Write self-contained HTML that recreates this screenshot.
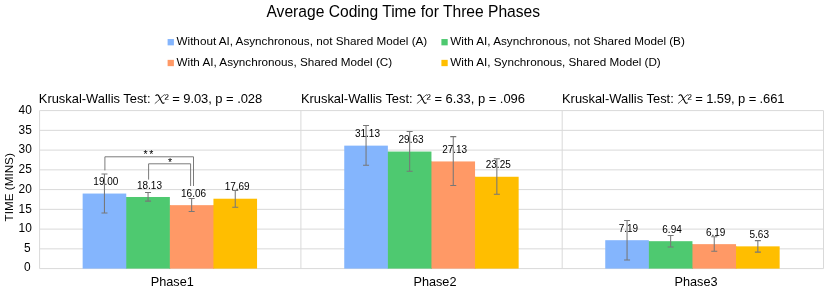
<!DOCTYPE html>
<html><head><meta charset="utf-8"><style>html,body{margin:0;padding:0;background:#fff}svg{display:block;will-change:transform}text{font-family:"Liberation Sans",sans-serif;fill:#000}</style></head><body>
<svg width="830" height="298" viewBox="0 0 830 298">
<line x1="39.6" x2="823.5" y1="268.60" y2="268.60" stroke="#D9D9D9" stroke-width="1"/>
<text x="30.7" y="271.3" font-size="11.9" text-anchor="end">0</text>
<line x1="39.6" x2="823.5" y1="248.85" y2="248.85" stroke="#D9D9D9" stroke-width="1"/>
<text x="30.7" y="251.5" font-size="11.9" text-anchor="end">5</text>
<line x1="39.6" x2="823.5" y1="229.10" y2="229.10" stroke="#D9D9D9" stroke-width="1"/>
<text x="31.8" y="231.9" font-size="11.9" text-anchor="end">10</text>
<line x1="39.6" x2="823.5" y1="209.35" y2="209.35" stroke="#D9D9D9" stroke-width="1"/>
<text x="31.8" y="212.6" font-size="11.9" text-anchor="end">15</text>
<line x1="39.6" x2="823.5" y1="189.60" y2="189.60" stroke="#D9D9D9" stroke-width="1"/>
<text x="31.8" y="193.1" font-size="11.9" text-anchor="end">20</text>
<line x1="39.6" x2="823.5" y1="169.85" y2="169.85" stroke="#D9D9D9" stroke-width="1"/>
<text x="31.8" y="173.2" font-size="11.9" text-anchor="end">25</text>
<line x1="39.6" x2="823.5" y1="150.10" y2="150.10" stroke="#D9D9D9" stroke-width="1"/>
<text x="31.8" y="153.3" font-size="11.9" text-anchor="end">30</text>
<line x1="39.6" x2="823.5" y1="130.35" y2="130.35" stroke="#D9D9D9" stroke-width="1"/>
<text x="31.8" y="133.5" font-size="11.9" text-anchor="end">35</text>
<line x1="39.6" x2="823.5" y1="110.60" y2="110.60" stroke="#D9D9D9" stroke-width="1"/>
<text x="31.8" y="113.95" font-size="11.9" text-anchor="end">40</text>
<line x1="39.60" x2="39.60" y1="110.60" y2="268.60" stroke="#D9D9D9" stroke-width="1"/>
<line x1="300.90" x2="300.90" y1="110.60" y2="268.60" stroke="#D9D9D9" stroke-width="1"/>
<line x1="562.20" x2="562.20" y1="110.60" y2="268.60" stroke="#D9D9D9" stroke-width="1"/>
<line x1="823.50" x2="823.50" y1="110.60" y2="268.60" stroke="#D9D9D9" stroke-width="1"/>
<rect x="82.65" y="193.55" width="43.6" height="75.05" fill="#84B5FD"/>
<rect x="125.65" y="196.99" width="1.2" height="71.61" fill="#84B5FD"/>
<rect x="126.25" y="196.99" width="43.6" height="71.61" fill="#4EC970"/>
<rect x="169.25" y="205.16" width="1.2" height="63.44" fill="#4EC970"/>
<rect x="169.85" y="205.16" width="43.6" height="63.44" fill="#FF9966"/>
<rect x="212.85" y="205.16" width="1.2" height="63.44" fill="#FF9966"/>
<rect x="213.45" y="198.72" width="43.6" height="69.88" fill="#FFBE00"/>
<path d="M104.45 173.90V212.90M101.45 173.90H107.45M101.45 212.90H107.45" stroke="#777" stroke-width="1.05" fill="none"/>
<text x="105.85" y="185.25" font-size="10" text-anchor="middle">19.00</text>
<path d="M148.05 192.40V201.10M145.05 192.40H151.05M145.05 201.10H151.05" stroke="#777" stroke-width="1.05" fill="none"/>
<text x="149.45" y="188.69" font-size="10" text-anchor="middle">18.13</text>
<path d="M191.65 198.50V211.50M188.65 198.50H194.65M188.65 211.50H194.65" stroke="#777" stroke-width="1.05" fill="none"/>
<text x="193.55" y="196.86" font-size="10" text-anchor="middle">16.06</text>
<path d="M235.25 190.40V207.20M232.25 190.40H238.25M232.25 207.20H238.25" stroke="#777" stroke-width="1.05" fill="none"/>
<text x="237.15" y="190.42" font-size="10" text-anchor="middle">17.69</text>
<text x="172.25" y="286.2" font-size="12.7" text-anchor="middle">Phase1</text>
<rect x="344.25" y="145.64" width="43.6" height="122.96" fill="#84B5FD"/>
<rect x="387.25" y="151.56" width="1.2" height="117.04" fill="#84B5FD"/>
<rect x="387.85" y="151.56" width="43.6" height="117.04" fill="#4EC970"/>
<rect x="430.85" y="161.44" width="1.2" height="107.16" fill="#4EC970"/>
<rect x="431.45" y="161.44" width="43.6" height="107.16" fill="#FF9966"/>
<rect x="474.45" y="176.76" width="1.2" height="91.84" fill="#FF9966"/>
<rect x="475.05" y="176.76" width="43.6" height="91.84" fill="#FFBE00"/>
<path d="M366.05 125.40V165.20M363.05 125.40H369.05M363.05 165.20H369.05" stroke="#777" stroke-width="1.05" fill="none"/>
<text x="367.45" y="137.34" font-size="10" text-anchor="middle">31.13</text>
<path d="M409.65 131.40V171.30M406.65 131.40H412.65M406.65 171.30H412.65" stroke="#777" stroke-width="1.05" fill="none"/>
<text x="411.05" y="143.26" font-size="10" text-anchor="middle">29.63</text>
<path d="M453.25 136.60V185.40M450.25 136.60H456.25M450.25 185.40H456.25" stroke="#777" stroke-width="1.05" fill="none"/>
<text x="454.65" y="153.14" font-size="10" text-anchor="middle">27.13</text>
<path d="M496.85 158.80V194.20M493.85 158.80H499.85M493.85 194.20H499.85" stroke="#777" stroke-width="1.05" fill="none"/>
<text x="498.25" y="168.46" font-size="10" text-anchor="middle">23.25</text>
<text x="434.95" y="286.2" font-size="12.7" text-anchor="middle">Phase2</text>
<rect x="605.25" y="240.20" width="43.6" height="28.40" fill="#84B5FD"/>
<rect x="648.25" y="241.19" width="1.2" height="27.41" fill="#84B5FD"/>
<rect x="648.85" y="241.19" width="43.6" height="27.41" fill="#4EC970"/>
<rect x="691.85" y="244.15" width="1.2" height="24.45" fill="#4EC970"/>
<rect x="692.45" y="244.15" width="43.6" height="24.45" fill="#FF9966"/>
<rect x="735.45" y="246.36" width="1.2" height="22.24" fill="#FF9966"/>
<rect x="736.05" y="246.36" width="43.6" height="22.24" fill="#FFBE00"/>
<path d="M627.05 220.40V260.00M624.05 220.40H630.05M624.05 260.00H630.05" stroke="#777" stroke-width="1.05" fill="none"/>
<text x="628.45" y="231.90" font-size="10" text-anchor="middle">7.19</text>
<path d="M670.65 235.50V247.00M667.65 235.50H673.65M667.65 247.00H673.65" stroke="#777" stroke-width="1.05" fill="none"/>
<text x="672.05" y="232.89" font-size="10" text-anchor="middle">6.94</text>
<path d="M714.25 236.70V251.30M711.25 236.70H717.25M711.25 251.30H717.25" stroke="#777" stroke-width="1.05" fill="none"/>
<text x="715.65" y="235.85" font-size="10" text-anchor="middle">6.19</text>
<path d="M757.85 240.60V252.10M754.85 240.60H760.85M754.85 252.10H760.85" stroke="#777" stroke-width="1.05" fill="none"/>
<text x="759.25" y="238.06" font-size="10" text-anchor="middle">5.63</text>
<text x="696.05" y="286.2" font-size="12.7" text-anchor="middle">Phase3</text>
<path d="M104.9 170.4V156.8H193.5V186" stroke="#6c6c6c" stroke-width="0.9" fill="none"/>
<path d="M148.6 179.6V163.8H190.6V186" stroke="#6c6c6c" stroke-width="0.9" fill="none"/>
<text x="149.3" y="158.3" font-size="10.5" text-anchor="middle" letter-spacing="1.6">**</text>
<text x="170" y="165.8" font-size="10.5" text-anchor="middle">*</text>
<text x="403.3" y="17.1" font-size="15.62" text-anchor="middle">Average Coding Time for Three Phases</text>
<rect x="167.6" y="39.05" width="6.3" height="6.3" fill="#84B5FD"/>
<text x="176.50" y="45.20" font-size="11.7">Without AI, Asynchronous, not Shared Model (A)</text>
<rect x="167.6" y="59.85" width="6.3" height="6.3" fill="#FF9966"/>
<text x="176.50" y="66.40" font-size="11.7">With AI, Asynchronous, Shared Model (C)</text>
<rect x="441.4" y="39.05" width="6.3" height="6.3" fill="#4EC970"/>
<text x="450.30" y="45.20" font-size="11.7">With AI, Asynchronous, not Shared Model (B)</text>
<rect x="441.4" y="59.85" width="6.3" height="6.3" fill="#FFBE00"/>
<text x="450.30" y="66.40" font-size="11.7">With AI, Synchronous, Shared Model (D)</text>
<text x="38.8" y="103.3" font-size="12.9">Kruskal-Wallis Test:</text>
<g transform="translate(154.90,103.7) scale(1.1,1)" fill="none" stroke="#000" stroke-linecap="round"><path d="M8.7 -9.1C6.5 -8 3 -2.2 0.2 -0.3" stroke-width="0.65"/><path d="M0.9 -8.2C1.5 -9.1 2.7 -9.2 3.3 -8.2L6.3 -1.6C6.8 -0.4 7.6 -0.2 8.3 -0.9" stroke-width="1.1"/></g>
<text x="164.40" y="103.3" font-size="12.97" textLength="97.8" lengthAdjust="spacing">² = 9.03, p = .028</text>
<text x="300.9" y="103.3" font-size="12.9">Kruskal-Wallis Test:</text>
<g transform="translate(417.00,103.7) scale(1.1,1)" fill="none" stroke="#000" stroke-linecap="round"><path d="M8.7 -9.1C6.5 -8 3 -2.2 0.2 -0.3" stroke-width="0.65"/><path d="M0.9 -8.2C1.5 -9.1 2.7 -9.2 3.3 -8.2L6.3 -1.6C6.8 -0.4 7.6 -0.2 8.3 -0.9" stroke-width="1.1"/></g>
<text x="426.50" y="103.3" font-size="12.97" textLength="98.5" lengthAdjust="spacing">² = 6.33, p = .096</text>
<text x="562.0" y="103.3" font-size="12.9">Kruskal-Wallis Test:</text>
<g transform="translate(678.10,103.7) scale(1.1,1)" fill="none" stroke="#000" stroke-linecap="round"><path d="M8.7 -9.1C6.5 -8 3 -2.2 0.2 -0.3" stroke-width="0.65"/><path d="M0.9 -8.2C1.5 -9.1 2.7 -9.2 3.3 -8.2L6.3 -1.6C6.8 -0.4 7.6 -0.2 8.3 -0.9" stroke-width="1.1"/></g>
<text x="687.60" y="103.3" font-size="12.97" textLength="96.9" lengthAdjust="spacing">² = 1.59, p = .661</text>
<text transform="translate(12.7,187.3) rotate(-90)" font-size="11.7" text-anchor="middle">TIME (MINS)</text>
</svg></body></html>
